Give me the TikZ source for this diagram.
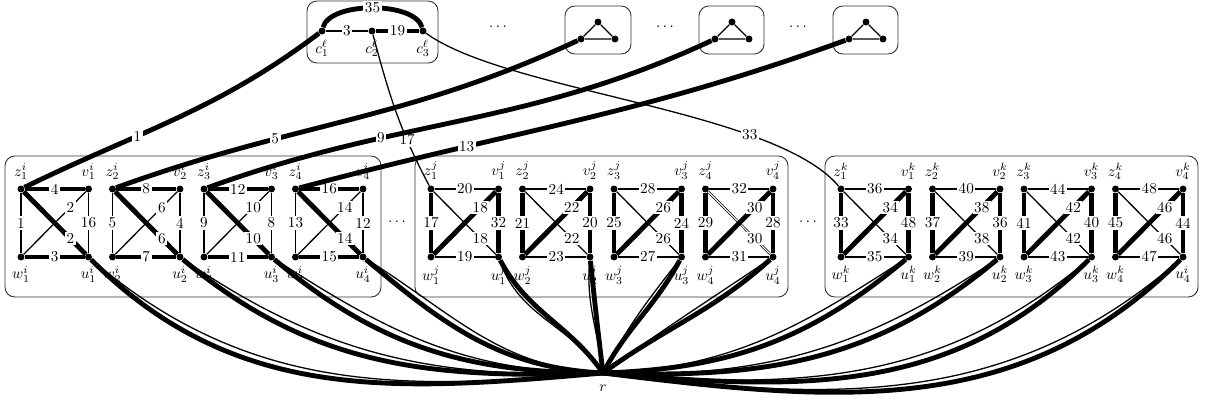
\documentclass[tikz,border=0pt]{standalone}
\tikzset{
  vtx/.style={circle,fill=black,inner sep=0pt,minimum size=4.6pt},
  thk/.style={line width=3.2pt},
  thn/.style={line width=0.85pt},
  dbl/.style={line width=0.45pt,double,double distance=0.7pt},
  lbl/.style={fill=white,inner sep=1pt},
  gbox/.style={draw=black!80,line width=0.6pt,rounded corners=6.5pt},
}
\begin{document}
\begin{tikzpicture}[x=0.66pt,y=0.66pt]
\useasboundingbox (0,0) rectangle (1206,-403);
% boxes
\draw[gbox] (5,-156) rectangle (381,-297);
\draw[gbox] (415,-156) rectangle (788,-297);
\draw[gbox] (825,-156) rectangle (1198,-297);
\draw[gbox] (307,-1) rectangle (438,-63);
\draw[gbox] (565,-6) rectangle (631,-54);
\draw[gbox] (699,-6) rectangle (764,-54);
\draw[gbox] (833,-6) rectangle (898,-54);
% dots
\node (d1) at (498,-27) {$\cdots$};
\node (d2) at (665,-27) {$\cdots$};
\node (d3) at (798,-27) {$\cdots$};
\node (d4) at (397,-222) {$\cdots$};
\node (d5) at (808,-222) {$\cdots$};
% gadget vertices
\foreach \s/\g/\X/\us in {i/1/21/i, i/2/112.5/i, i/3/204/i, i/4/295.5/i,
  j/1/431/j, j/2/522.5/j, j/3/614/j, j/4/705.5/j,
  k/1/841/k, k/2/932.5/k, k/3/1024/k, k/4/1115.5/i} {
  \pgfmathsetmacro\V{\X+67.5}
  \node[vtx,label={above:$z^{\s}_{\g}$}] (z\s\g) at (\X,-189) {};
  \node[vtx,label={above:$v^{\s}_{\g}$}] (v\s\g) at (\V,-189) {};
  \node[vtx,label={below:$w^{\s}_{\g}$}] (w\s\g) at (\X,-257) {};
  \node[vtx,label={below:$u^{\us}_{\g}$}] (u\s\g) at (\V,-257) {};
}
% clause gadget
\node[vtx,label={below:$c^{\ell}_{1}$}] (c1) at (322,-31) {};
\node[vtx,label={below:$c^{\ell}_{2}$}] (c2) at (372,-31) {};
\node[vtx,label={below:$c^{\ell}_{3}$}] (c3) at (423,-31) {};
\draw[thn] (c1) -- node[lbl] (l3) {3} (c2);
\draw[thk] (c2) -- node[lbl] (l19) {19} (c3);
\draw[thk] (c1) to[out=75,in=105,looseness=0.7] node[lbl] (l35) {35} (c3);
% triangles
\foreach \n/\X in {1/598,2/732,3/866} {
  \node[vtx] (t\n a) at (\X,-22) {};
  \node[vtx] (t\n b) at (\X-17,-39) {};
  \node[vtx] (t\n c) at (\X+17,-39) {};
  \draw[thn] (t\n a) -- (t\n b) -- (t\n c) -- (t\n a);
}
% r
\node[inner sep=0pt,minimum size=0pt,label={[label distance=4pt]below:$r$}] (r) at (603,-373) {};
% gadget i edges
\foreach \g/\t/\l/\r/\b/\d in {1/4/1/16/3/2,2/8/5/4/7/6,3/12/9/8/11/10,4/16/13/12/15/14} {
  \draw[thn] (zi\g) -- node[lbl] (lli\g) {\l} (wi\g);
  \draw[thn] (vi\g) -- node[lbl] (lri\g) {\r} (ui\g);
  \draw[thn] (wi\g) -- node[lbl,pos=0.75] (ldi\g) {\d} (vi\g);
  \draw[thk] (zi\g) -- node[lbl] (lti\g) {\t} (vi\g);
  \draw[thk] (wi\g) -- node[lbl] (lbi\g) {\b} (ui\g);
  \draw[thk] (zi\g) -- node[lbl,pos=0.75] (lei\g) {\d} (ui\g);
}
% gadgets j and k edges
\foreach \s/\g/\t/\l/\r/\b/\d/\q in {j/1/20/17/32/19/18/0, j/2/24/21/20/23/22/0,
  j/3/28/25/24/27/26/0, j/4/32/29/28/31/30/1, k/1/36/33/48/35/34/0,
  k/2/40/37/36/39/38/0, k/3/44/41/40/43/42/0, k/4/48/45/44/47/46/0} {
  \draw[thn] (z\s\g) -- node[lbl] (lt\s\g) {\t} (v\s\g);
  \draw[thn] (w\s\g) -- node[lbl] (lb\s\g) {\b} (u\s\g);
  \ifnum\q=1
    \draw[dbl] (z\s\g) -- node[lbl,pos=0.75] (le\s\g) {\d} (u\s\g);
  \else
    \draw[thn] (z\s\g) -- node[lbl,pos=0.75] (le\s\g) {\d} (u\s\g);
  \fi
  \draw[thk] (z\s\g) -- node[lbl] (ll\s\g) {\l} (w\s\g);
  \draw[thk] (v\s\g) -- node[lbl] (lr\s\g) {\r} (u\s\g);
  \draw[thk] (w\s\g) -- node[lbl,pos=0.75] (ld\s\g) {\d} (v\s\g);
}
% edges to r
\foreach \u/\o/\n/\dd in {ui1/-45/185/4.5, ui2/-40/182/5.5, ui3/-40/180/7, ui4/-40/177/8,
  uj1/-62/125/-9, uj2/-84/97/-11, uj3/242/62/-10, uj4/222/36/-8,
  uk1/220/2/-7, uk2/220/-2/-6, uk3/225/-5/-5, uk4/225/-7/-4} {
  \pgfmathsetmacro\ot{\o+\dd}
  \draw[thk] (\u) to[out=\o,in=\n] (r);
  \draw[thn] (\u) to[out=\ot,in=\n] (r);
}
% clause to variable edges
\draw[thn] (c3) to[out=-36,in=130,distance=66pt] node[lbl,pos=0.73] (l33) {33} (zk1);
\draw[thn] (c2) to[out=-75,in=118] node[lbl,pos=0.7] (l17) {17} (zj1);
\draw[thk] (c1) to[out=217,in=26] node[lbl,pos=0.64] (l1) {1} (zi1);
\draw[thk] (t1b) to[out=205,in=20] node[lbl,pos=0.67] (l5) {5} (zi2);
\draw[thk] (t2b) to[out=205,in=20] node[lbl,pos=0.67] (l9) {9} (zi3);
\draw[thk] (t3b) to[out=200,in=15] node[lbl,pos=0.71] (l13) {13} (zi4);
\end{tikzpicture}
\end{document}
